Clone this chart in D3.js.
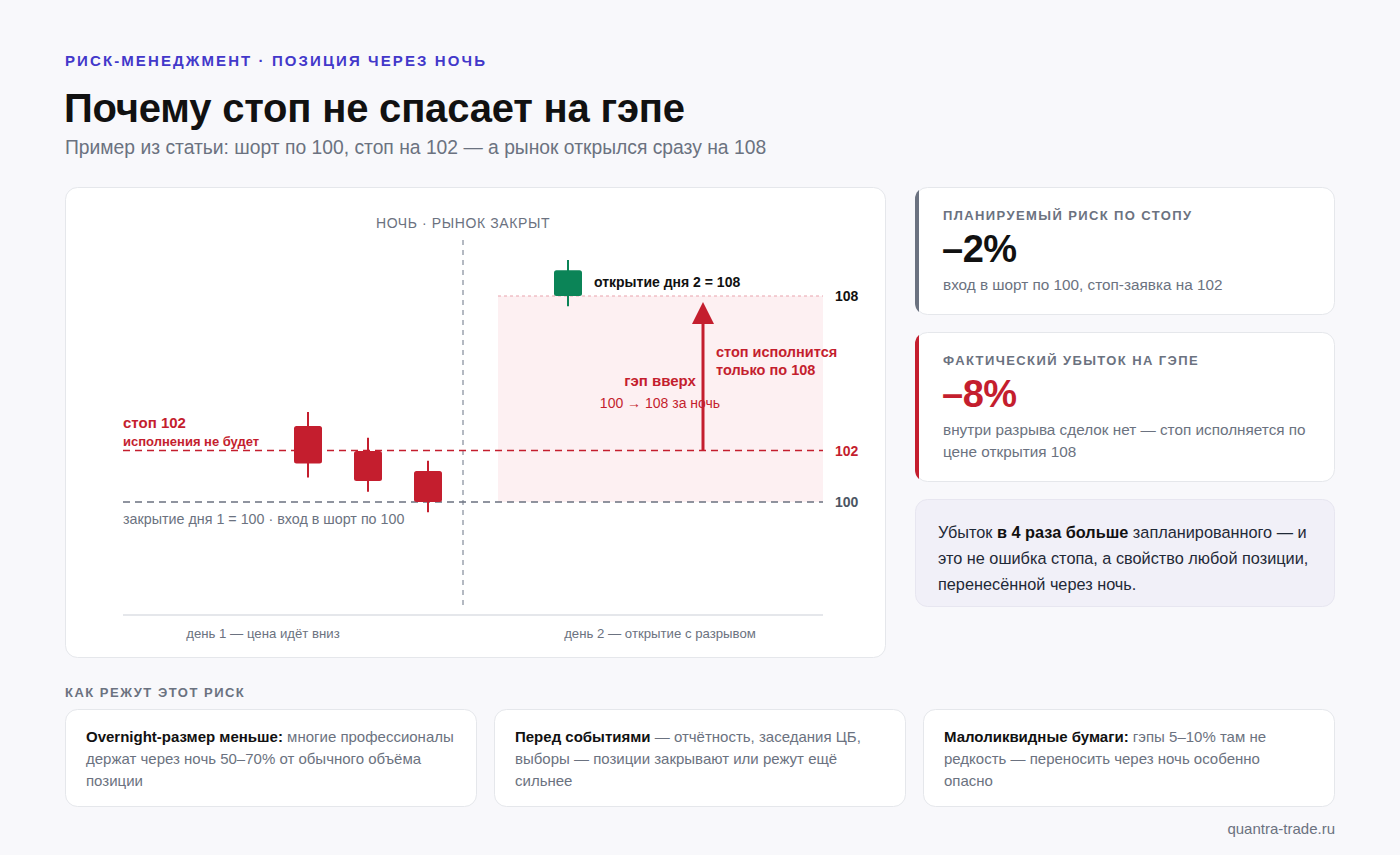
<!DOCTYPE html>
<html><head><meta charset="utf-8">
<script src="https://cdn.jsdelivr.net/npm/d3@7/dist/d3.min.js"></script>
<style>
html,body{margin:0;padding:0;background:#f8f8fb;}
svg{display:block;font-family:"Liberation Sans",Arial,Helvetica,sans-serif;}
</style></head><body>
<svg id="c" width="1400" height="855"></svg>
<script>
// ---- data ----
const candleT     = [18.5, 24.5, 30.5, 44.5];
const candleOpen  = [102.95, 101.98, 101.2, 108.0];
const candleClose = [101.5, 100.82, 100.0, 109.0];
const candleHigh  = [103.5, 102.5, 101.6, 109.4];
const candleLow   = [100.95, 100.4, 99.6, 107.6];
const entryPrice = 100, stopPrice = 102, gapOpen = 108;
const levelValues = [100, 102, 108];
const levelLabels = ["100", "102", "108"];
const nightT = 34, gapStartT = 37.5, gapEndT = 70, arrowT = 58;
const dayLabels = ["день 1 — цена идёт вниз", "день 2 — открытие с разрывом"];
const dayLabelT = [14, 53.7];
const kpiLabels = ["ПЛАНИРУЕМЫЙ РИСК ПО СТОПУ", "ФАКТИЧЕСКИЙ УБЫТОК НА ГЭПЕ"];
const kpiValues = ["–2%", "–8%"];
const kpiNotes = [["вход в шорт по 100, стоп-заявка на 102"],
  ["внутри разрыва сделок нет — стоп исполняется по", "цене открытия 108"]];
const tipTitles = ["Overnight-размер меньше:", "Перед событиями", "Малоликвидные бумаги:"];
const tipLines = [
  [" многие профессионалы", "держат через ночь 50–70% от обычного объёма", "позиции"],
  [" — отчётность, заседания ЦБ,", "выборы — позиции закрывают или режут ещё", "сильнее"],
  [" гэпы 5–10% там не", "редкость — переносить через ночь особенно", "опасно"]
];

const RED = "#c41e2e", GREEN = "#0b8457", GRAY = "#6b7280", INK = "#111111";
const svg = d3.select("#c");

// ---- header ----
svg.append("text").attr("x",65).attr("y",66).attr("fill","#4338ca").attr("font-size",15)
  .attr("font-weight",700).attr("letter-spacing",2.1).text("РИСК-МЕНЕДЖМЕНТ · ПОЗИЦИЯ ЧЕРЕЗ НОЧЬ");
svg.append("text").attr("x",64).attr("y",122).attr("fill",INK).attr("font-size",40)
  .attr("font-weight",700).attr("letter-spacing",-0.2).text("Почему стоп не спасает на гэпе");
svg.append("text").attr("x",65).attr("y",154).attr("fill",GRAY).attr("font-size",19.3)
  .text("Пример из статьи: шорт по 100, стоп на 102 — а рынок открылся сразу на 108");

// ---- chart card ----
svg.append("rect").attr("x",65.5).attr("y",187.5).attr("width",820).attr("height",470).attr("rx",12)
  .attr("fill","#fff").attr("stroke","#e5e7eb");

const x = d3.scaleLinear().domain([0,70]).range([123,823]);
const y = d3.scaleLinear().domain([100,108]).range([502,296]);
const g = svg.append("g");

// gap zone
g.append("rect").attr("x",x(gapStartT)).attr("y",y(gapOpen)).attr("width",x(gapEndT)-x(gapStartT))
  .attr("height",y(entryPrice)-y(gapOpen)).attr("fill","#fdf0f2");
g.append("line").attr("x1",x(gapStartT)).attr("x2",x(gapEndT)).attr("y1",y(gapOpen)).attr("y2",y(gapOpen))
  .attr("stroke","#e9a3ad").attr("stroke-width",1).attr("stroke-dasharray","3,3");

// night line
g.append("line").attr("x1",x(nightT)).attr("x2",x(nightT)).attr("y1",240).attr("y2",605)
  .attr("stroke","#9ca3af").attr("stroke-width",1.5).attr("stroke-dasharray","5,5");
g.append("text").attr("x",x(nightT)).attr("y",228).attr("text-anchor","middle").attr("fill",GRAY)
  .attr("font-size",14).attr("letter-spacing",0.6).text("НОЧЬ · РЫНОК ЗАКРЫТ");

// baseline axis
g.append("line").attr("x1",x(0)).attr("x2",x(70)).attr("y1",615).attr("y2",615)
  .attr("stroke","#e5e7eb").attr("stroke-width",2);
dayLabels.forEach((t,i)=>{
  g.append("text").attr("x",x(dayLabelT[i])).attr("y",638).attr("text-anchor","middle")
    .attr("fill",GRAY).attr("font-size",13.2).text(t);
});

// stop & entry lines
g.append("line").attr("x1",x(0)).attr("x2",x(70)).attr("y1",y(stopPrice)).attr("y2",y(stopPrice))
  .attr("stroke",RED).attr("stroke-width",1.5).attr("stroke-dasharray","7,5");
g.append("line").attr("x1",x(0)).attr("x2",x(70)).attr("y1",y(entryPrice)).attr("y2",y(entryPrice))
  .attr("stroke","#6b7280").attr("stroke-width",1.5).attr("stroke-dasharray","7,5");

const levelColors = ["#4b5563", RED, INK];
levelValues.forEach((v,i)=>{
  g.append("text").attr("x",x(70)+12).attr("y",y(v)+5).attr("fill",levelColors[i])
    .attr("font-size",14).attr("font-weight",700).text(levelLabels[i]);
});

// candles
candleT.forEach((t,i)=>{
  const up = candleClose[i] > candleOpen[i];
  const col = up ? GREEN : RED;
  const cx = x(t);
  g.append("line").attr("x1",cx).attr("x2",cx).attr("y1",y(candleHigh[i])).attr("y2",y(candleLow[i]))
    .attr("stroke",col).attr("stroke-width",2);
  const top = y(Math.max(candleOpen[i],candleClose[i])), bot = y(Math.min(candleOpen[i],candleClose[i]));
  g.append("rect").attr("x",cx-14).attr("y",top).attr("width",28).attr("height",bot-top)
    .attr("rx",2.5).attr("fill",col);
});

// annotations
g.append("text").attr("x",123).attr("y",428).attr("fill",RED).attr("font-size",15).attr("font-weight",700).text("стоп 102");
g.append("text").attr("x",123).attr("y",446).attr("fill",RED).attr("font-size",13).attr("font-weight",700).text("исполнения не будет");
g.append("text").attr("x",123).attr("y",524).attr("fill",GRAY).attr("font-size",14.3).text("закрытие дня 1 = 100 · вход в шорт по 100");
g.append("text").attr("x",x(candleT[3])+26).attr("y",287).attr("fill",INK).attr("font-size",14).attr("font-weight",700).text("открытие дня 2 = 108");

// arrow
const ax = x(arrowT);
g.append("line").attr("x1",ax).attr("x2",ax).attr("y1",y(stopPrice)).attr("y2",y(gapOpen)+24)
  .attr("stroke",RED).attr("stroke-width",3);
g.append("path").attr("d",`M${ax},${y(gapOpen)+6} L${ax+11},${y(gapOpen)+28} L${ax-11},${y(gapOpen)+28} Z`).attr("fill",RED);
g.append("text").attr("x",ax+13).attr("y",357).attr("fill",RED).attr("font-size",14.5).attr("font-weight",700).text("стоп исполнится");
g.append("text").attr("x",ax+13).attr("y",375).attr("fill",RED).attr("font-size",14.5).attr("font-weight",700).text("только по 108");
g.append("text").attr("x",660).attr("y",386).attr("text-anchor","middle").attr("fill",RED).attr("font-size",15).attr("font-weight",700).text("гэп вверх");
g.append("text").attr("x",660).attr("y",408).attr("text-anchor","middle").attr("fill",RED).attr("font-size",14).text("100 → 108 за ночь");

// ---- KPI cards ----
const kpiY = [187, 332], kpiH = [128, 150], kpiAccent = ["#6b7280", RED], kpiValColor = [INK, RED];
kpiLabels.forEach((lab,i)=>{
  const cg = svg.append("g").attr("transform",`translate(915,${kpiY[i]})`);
  const clipId = "kc"+i;
  cg.append("clipPath").attr("id",clipId).append("rect").attr("x",0).attr("y",0).attr("width",420).attr("height",kpiH[i]).attr("rx",12);
  cg.append("rect").attr("x",0.5).attr("y",0.5).attr("width",419).attr("height",kpiH[i]-1).attr("rx",12)
    .attr("fill","#fff").attr("stroke","#e5e7eb");
  cg.append("rect").attr("x",0).attr("y",0).attr("width",4).attr("height",kpiH[i]).attr("fill",kpiAccent[i]).attr("clip-path",`url(#${clipId})`);
  cg.append("text").attr("x",28).attr("y",33).attr("fill",GRAY).attr("font-size",13).attr("font-weight",700)
    .attr("letter-spacing",1.4).text(lab);
  cg.append("text").attr("x",27).attr("y",75).attr("fill",kpiValColor[i]).attr("font-size",38).attr("font-weight",700)
    .attr("letter-spacing",-0.5).text(kpiValues[i]);
  kpiNotes[i].forEach((ln,j)=>{
    cg.append("text").attr("x",28).attr("y",103+j*22).attr("fill",GRAY).attr("font-size",15.3).text(ln);
  });
});

// summary card
const sg = svg.append("g").attr("transform","translate(915,499)");
sg.append("rect").attr("x",0.5).attr("y",0.5).attr("width",419).attr("height",107).attr("rx",12)
  .attr("fill","#f1f0f8").attr("stroke","#e7e6f0");
const s1 = sg.append("text").attr("x",23).attr("y",39).attr("fill","#1f2937").attr("font-size",16.3);
s1.append("tspan").text("Убыток ");
s1.append("tspan").attr("font-weight",700).attr("fill",INK).text("в 4 раза больше");
s1.append("tspan").text(" запланированного — и");
sg.append("text").attr("x",23).attr("y",65).attr("fill","#1f2937").attr("font-size",16.3).text("это не ошибка стопа, а свойство любой позиции,");
sg.append("text").attr("x",23).attr("y",91).attr("fill","#1f2937").attr("font-size",16.3).text("перенесённой через ночь.");

// ---- tips ----
svg.append("text").attr("x",65).attr("y",697).attr("fill",GRAY).attr("font-size",13).attr("font-weight",700)
  .attr("letter-spacing",1.5).text("КАК РЕЖУТ ЭТОТ РИСК");
const tipX = [65, 494, 923];
tipTitles.forEach((tt,i)=>{
  const tg = svg.append("g").attr("transform",`translate(${tipX[i]},709)`);
  tg.append("rect").attr("x",0.5).attr("y",0.5).attr("width",411).attr("height",97).attr("rx",12)
    .attr("fill","#fff").attr("stroke","#e5e7eb");
  tipLines[i].forEach((ln,j)=>{
    const t = tg.append("text").attr("x",21).attr("y",33+j*22).attr("fill",GRAY).attr("font-size",15);
    if(j===0){ t.append("tspan").attr("font-weight",700).attr("fill",INK).text(tt); }
    t.append("tspan").text(ln);
  });
});

svg.append("text").attr("x",1335).attr("y",834).attr("text-anchor","end").attr("fill",GRAY)
  .attr("font-size",15).text("quantra-trade.ru");
</script>
</body></html>
